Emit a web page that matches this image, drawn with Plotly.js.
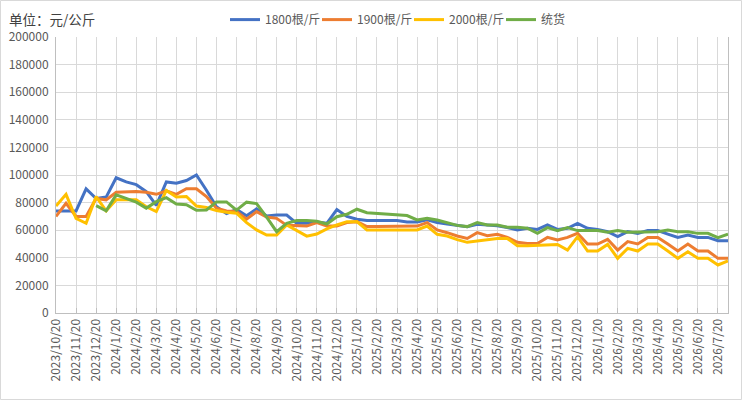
<!DOCTYPE html>
<html>
<head>
<meta charset="utf-8">
<script src="https://cdn.plot.ly/plotly-3.0.1.min.js"></script>
<style>
html,body{margin:0;padding:0;background:#fff;}
#chart{width:742px;height:400px;}
</style>
</head>
<body>
<div id="chart"></div>
<script>
var dates = ["2023/10/20","2023/11/5","2023/11/20","2023/12/5","2023/12/20","2024/1/5","2024/1/20","2024/2/5","2024/2/20","2024/3/5",
"2024/3/20","2024/4/5","2024/4/20","2024/5/5","2024/5/20","2024/6/5","2024/6/20","2024/7/5","2024/7/20","2024/8/5",
"2024/8/20","2024/9/5","2024/9/20","2024/10/5","2024/10/20","2024/11/5","2024/11/20","2024/12/5","2024/12/20","2025/1/5",
"2025/1/20","2025/2/5","2025/2/20","2025/3/5","2025/3/20","2025/4/5","2025/4/20","2025/5/5","2025/5/20","2025/6/5",
"2025/6/20","2025/7/5","2025/7/20","2025/8/5","2025/8/20","2025/9/5","2025/9/20","2025/10/5","2025/10/20","2025/11/5",
"2025/11/20","2025/12/5","2025/12/20","2026/1/5","2026/1/20","2026/2/5","2026/2/20","2026/3/5","2026/3/20","2026/4/5",
"2026/4/20","2026/5/5","2026/5/20","2026/6/5","2026/6/20","2026/7/5","2026/7/20","2026/8/5"];

var tickLabels = ["2023/10/20","2023/11/20","2023/12/20","2024/1/20","2024/2/20","2024/3/20","2024/4/20","2024/5/20","2024/6/20","2024/7/20",
"2024/8/20","2024/9/20","2024/10/20","2024/11/20","2024/12/20","2025/1/20","2025/2/20","2025/3/20","2025/4/20","2025/5/20",
"2025/6/20","2025/7/20","2025/8/20","2025/9/20","2025/10/20","2025/11/20","2025/12/20","2026/1/20","2026/2/20","2026/3/20",
"2026/4/20","2026/5/20","2026/6/20","2026/7/20"];

var s1800 = [74000,74000,74000,90000,83000,84000,98000,95000,93000,88000,
78000,95000,94000,96000,100000,89000,77000,72000,75000,70500,
75500,70300,71000,71000,65000,65000,66000,65000,75000,70000,
68000,67000,67000,67000,67000,66000,66000,67500,65500,64500,
63500,62500,64300,63800,63300,62000,60200,61400,60600,63800,
60600,61400,65000,61400,60600,59000,55300,59000,57700,59700,
59700,57200,54800,56500,54800,54800,52400,52400];

var s1900 = [70000,79500,70000,70000,83000,82000,87500,88000,88000,87500,
86000,88500,86000,90000,90000,84400,76000,74000,73500,68000,
73500,69500,68600,63500,63000,63000,65500,63000,63000,65500,
66200,62600,62600,62600,62600,62600,63000,65500,60200,58200,
55800,54000,58200,56000,57000,54800,51200,50400,50400,54800,
52900,54800,57700,50000,50000,53400,45600,51700,50000,54800,
54800,50000,44900,50000,44900,44900,39600,39600];

var s2000 = [77500,86000,68500,65000,84400,74000,82000,82000,82000,77000,
73500,88800,84000,84400,77500,76400,74200,73000,72300,65500,
60200,56500,56500,63800,59600,55700,57200,61000,63800,66200,
66200,60200,60200,60200,60200,60200,60200,63000,57000,55800,
53200,51200,52200,52900,54000,54000,48700,48700,49200,49700,
49700,45600,55300,44900,44900,49700,39600,46800,44900,50000,
50000,44900,39600,44400,39600,39600,34800,37700];

var sTonghuo = [null,null,null,null,77800,74000,85600,83000,80300,76000,
80700,83600,79000,78500,74500,74700,80500,80500,74500,80300,
79300,69500,58900,65000,67000,67000,66500,64500,69800,71500,
75200,72700,72300,71800,71000,70600,67400,68600,67400,65700,
63500,62600,65500,63800,63800,62100,62100,61400,57700,61900,
59700,61900,59700,59700,59700,58500,59700,58500,58500,58900,
58900,60200,58900,58900,57700,57700,54600,57200];

var seriesNames = ["1800根/斤","1900根/斤","2000根/斤","统货"];
var seriesColors = ["#4472C4","#ED7D31","#FFC000","#70AD47"];
var seriesData = [s1800, s1900, s2000, sTonghuo];

var traces = seriesData.map(function(d, k){
  return {
    x: dates, y: d, name: seriesNames[k], type: "scatter", mode: "lines",
    line: {color: seriesColors[k], width: 3, shape: "linear"},
    connectgaps: false
  };
});

var font = "'Noto Sans CJK SC', 'Microsoft YaHei', sans-serif";

var layout = {
  width: 742, height: 400,
  margin: {l: 56, r: 14, t: 37, b: 87, pad: 0},
  paper_bgcolor: "#ffffff", plot_bgcolor: "#ffffff",
  font: {family: font, size: 12, color: "#595959"},
  title: {
    text: "单位：元/公斤",
    font: {family: font, size: 13.5, color: "#404040"},
    xref: "container", yref: "container",
    x: 0.012, xanchor: "left", y: 0.95, yanchor: "middle"
  },
  showlegend: true,
  legend: {
    orientation: "h", xref: "container", yref: "container",
    x: 225 / 742, xanchor: "left", y: 0.951, yanchor: "middle",
    font: {family: font, size: 12, color: "#595959"},
    bgcolor: "rgba(0,0,0,0)", itemwidth: 30, tracegroupgap: 0,
    entrywidth: 47, entrywidthmode: "pixels"
  },
  xaxis: {
    type: "category",
    categoryorder: "array", categoryarray: dates,
    range: [0, dates.length - 1],
    tickmode: "array", tickvals: tickLabels, ticktext: tickLabels,
    tickangle: -90,
    tickfont: {family: font, size: 12, color: "#595959"},
    showgrid: true, gridcolor: "#D9D9D9", gridwidth: 1,
    showline: true, linecolor: "#BFBFBF", linewidth: 1,
    ticks: "inside", ticklen: 5, tickcolor: "#BFBFBF",
    zeroline: false, fixedrange: true
  },
  yaxis: {
    range: [0, 200000], dtick: 20000, tick0: 0, tickformat: "d",
    tickfont: {family: font, size: 12, color: "#595959"},
    showgrid: true, gridcolor: "#D9D9D9", gridwidth: 1,
    showline: true, linecolor: "#BFBFBF", linewidth: 1, mirror: true,
    ticks: "", ticklabelstandoff: 4, zeroline: false, fixedrange: true
  },
  shapes: [{
    type: "rect", xref: "paper", yref: "paper", layer: "below",
    x0: (0.5 - 56) / 672, x1: (741.5 - 56) / 672,
    y0: (313 - 399.5) / 276, y1: (313 - 0.5) / 276,
    line: {color: "#D9D9D9", width: 1}, fillcolor: "rgba(0,0,0,0)"
  }]
};

Plotly.newPlot("chart", traces, layout, {staticPlot: true, displayModeBar: false});
</script>
</body>
</html>
